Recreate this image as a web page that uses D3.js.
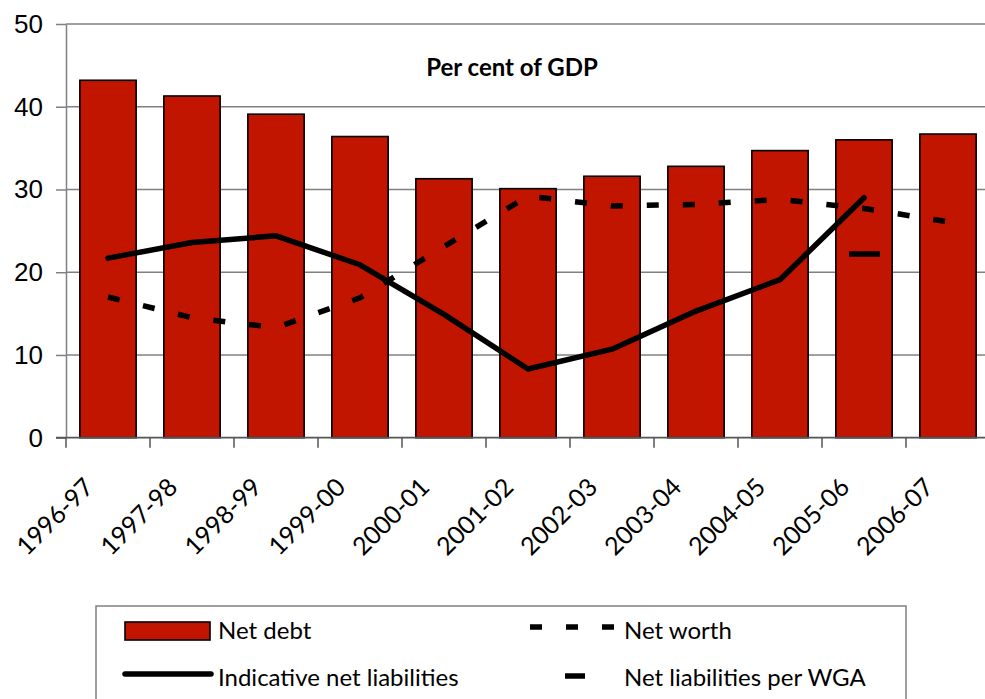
<!DOCTYPE html>
<html>
<head>
<meta charset="utf-8">
<script src="https://cdn.jsdelivr.net/npm/d3@7"></script>
<style>
  html, body { margin: 0; padding: 0; background: #fff; }
  svg { display: block; font-family: "Lato", "Open Sans", sans-serif; }
</style>
</head>
<body>
<svg id="chart" width="985" height="699"></svg>
<script>
// Financial years
const years = ["1996-97", "1997-98", "1998-99", "1999-00", "2000-01", "2001-02",
               "2002-03", "2003-04", "2004-05", "2005-06", "2006-07"];

// Per cent of GDP
const netDebt = [43.2, 41.3, 39.1, 36.4, 31.3, 30.1, 31.6, 32.8, 34.7, 36.0, 36.7];
const netWorth = [17.0, 14.5, 13.3, 16.9, 23.1, 29.2, 28.0, 28.2, 28.8, 27.7, 26.1];
const indicativeNetLiabilities = [21.7, 23.6, 24.4, 20.9, 14.9, 8.3, 10.7, 15.3, 19.1, 29.0, null];
const wgaNetLiabilities = [null, null, null, null, null, null, null, null, null, 22.2, null];

const yTicks = [0, 10, 20, 30, 40, 50];

const title = "Per cent of GDP";
const legendLabels = ["Net debt", "Net worth", "Indicative net liabilities", "Net liabilities per WGA"];

const barFill = "#c21500";
const gridGrey = "#808080";

const svg = d3.select("#chart");

const plot = { left: 66, right: 990, top: 24, bottom: 437.7 };

const x = d3.scaleBand().domain(years).range([plot.left, plot.right]).paddingInner(0.33).paddingOuter(0.165);
const xBand = d3.scaleBand().domain(years).range([plot.left, plot.right]);
const y = d3.scaleLinear().domain([0, 50]).range([plot.bottom, plot.top]);
const cx = d => xBand(d) + xBand.bandwidth() / 2;

// Value axis with its ticks
const yAxis = d3.axisLeft(y).tickValues(yTicks).tickSize(10).tickSizeOuter(0).tickPadding(13);
const gy = svg.append("g").attr("transform", `translate(${plot.left},0)`).call(yAxis);
gy.select(".domain").attr("stroke", gridGrey).attr("stroke-width", 1.5);
gy.selectAll(".tick line").attr("stroke", gridGrey).attr("stroke-width", 1.5);
gy.selectAll(".tick text").attr("font-size", 26).attr("fill", "#000");

// Horizontal gridlines
svg.append("g").selectAll("line").data(yTicks.filter(v => v > 0)).join("line")
  .attr("x1", plot.left).attr("x2", plot.right)
  .attr("y1", d => y(d)).attr("y2", d => y(d))
  .attr("stroke", gridGrey).attr("stroke-width", 1.5);

// Bars
svg.append("g").selectAll("rect").data(years).join("rect")
  .attr("x", d => x(d))
  .attr("y", (d, i) => y(netDebt[i]))
  .attr("width", x.bandwidth())
  .attr("height", (d, i) => y(0) - y(netDebt[i]))
  .attr("fill", barFill)
  .attr("stroke", "#000")
  .attr("stroke-width", 1.6);

// Category axis
const xAxis = d3.axisBottom(xBand).tickSize(0).tickFormat("");
const gx = svg.append("g").attr("transform", `translate(0,${plot.bottom})`).call(xAxis);
gx.select(".domain").attr("stroke", "#555").attr("stroke-width", 1.8).attr("d", `M${plot.left - 10},0H${plot.right}`);
gx.selectAll(".tick").remove();

svg.append("g").selectAll("line").data(years).join("line")
  .attr("x1", d => xBand(d)).attr("x2", d => xBand(d))
  .attr("y1", plot.bottom).attr("y2", plot.bottom + 10)
  .attr("stroke", "#555").attr("stroke-width", 1.5);

svg.append("g").selectAll("text").data(years).join("text")
  .attr("transform", d => `translate(${xBand(d) + 29},${plot.bottom + 51}) rotate(-45)`)
  .attr("text-anchor", "end")
  .attr("font-size", 25)
  .text(d => d);

// Lines
const lineGen = d3.line()
  .defined(d => d.v !== null)
  .x(d => cx(d.year))
  .y(d => y(d.v));

const series = arr => years.map((year, i) => ({ year, v: arr[i] }));

svg.append("path")
  .datum(series(netWorth))
  .attr("d", lineGen)
  .attr("fill", "none")
  .attr("stroke", "#000")
  .attr("stroke-width", 5.5)
  .attr("stroke-dasharray", "12,24");

svg.append("path")
  .datum(series(indicativeNetLiabilities))
  .attr("d", lineGen)
  .attr("fill", "none")
  .attr("stroke", "#000")
  .attr("stroke-width", 5.5)
  .attr("stroke-linejoin", "round")
  .attr("stroke-linecap", "round");

// Single WGA marker
svg.append("g").selectAll("line")
  .data(series(wgaNetLiabilities).filter(d => d.v !== null)).join("line")
  .attr("x1", d => cx(d.year) - 15).attr("x2", d => cx(d.year) + 16)
  .attr("y1", d => y(d.v)).attr("y2", d => y(d.v))
  .attr("stroke", "#000").attr("stroke-width", 5.5);

// Title
svg.append("text")
  .attr("x", 512).attr("y", 76)
  .attr("text-anchor", "middle")
  .attr("font-size", 24)
  .attr("font-weight", "bold")
  .text(title);

// Legend
const lg = svg.append("g");
lg.append("rect")
  .attr("x", 96).attr("y", 606).attr("width", 810).attr("height", 110)
  .attr("fill", "#fff").attr("stroke", gridGrey).attr("stroke-width", 1.5);

lg.append("rect")
  .attr("x", 125).attr("y", 622).attr("width", 85).attr("height", 18)
  .attr("fill", barFill).attr("stroke", "#000").attr("stroke-width", 1.6);
lg.append("line")
  .attr("x1", 125).attr("x2", 211).attr("y1", 674).attr("y2", 674)
  .attr("stroke", "#000").attr("stroke-width", 5.5).attr("stroke-linecap", "round");
lg.append("line")
  .attr("x1", 530).attr("x2", 616).attr("y1", 627).attr("y2", 627)
  .attr("stroke", "#000").attr("stroke-width", 5.5).attr("stroke-dasharray", "12,24");
lg.append("line")
  .attr("x1", 565).attr("x2", 585).attr("y1", 676).attr("y2", 676)
  .attr("stroke", "#000").attr("stroke-width", 5.5);

const legendText = [
  { t: legendLabels[0], x: 218, y: 639 },
  { t: legendLabels[1], x: 624, y: 639 },
  { t: legendLabels[2], x: 218, y: 686 },
  { t: legendLabels[3], x: 624, y: 686 }
];
lg.selectAll("text.lbl").data(legendText).join("text")
  .attr("class", "lbl")
  .attr("x", d => d.x).attr("y", d => d.y)
  .attr("font-size", 24)
  .text(d => d.t);
</script>
</body>
</html>
